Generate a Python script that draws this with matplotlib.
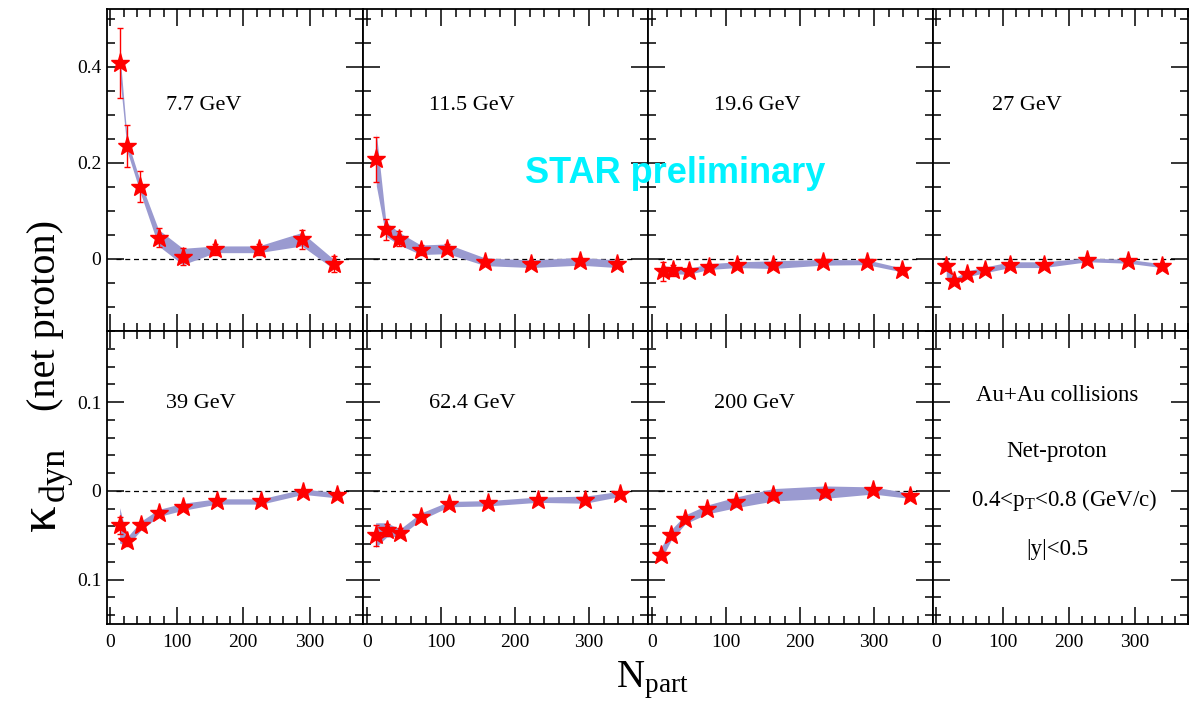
import numpy as np
import matplotlib
matplotlib.use("Agg")
import matplotlib.pyplot as plt
from matplotlib.ticker import MultipleLocator, FuncFormatter

plt.rcParams['font.family'] = 'Liberation Serif'
plt.rcParams['mathtext.fontset'] = 'custom'
plt.rcParams['mathtext.rm'] = 'Liberation Serif'
plt.rcParams['mathtext.it'] = 'Liberation Serif:italic'

# ---- data ----
energies = ["7.7 GeV", "11.5 GeV", "19.6 GeV", "27 GeV", "39 GeV", "62.4 GeV", "200 GeV"]

npart_77 = [14, 25.5, 45, 72.5, 109, 158, 223, 288, 336]
kap_77 = [0.408, 0.235, 0.150, 0.044, 0.005, 0.020, 0.020, 0.041, -0.011]
stat_77 = [0.073, 0.043, 0.032, 0.020, 0.017, 0.012, 0.012, 0.020, 0.017]
sys_77 = [0.025, 0.012, 0.012, 0.017, 0.017, 0.007, 0.007, 0.014, 0.010]

npart_115 = [13, 26, 44, 73, 109, 160, 222, 288, 338]
kap_115 = [0.207, 0.062, 0.042, 0.019, 0.021, -0.006, -0.010, -0.005, -0.010]
stat_115 = [0.047, 0.022, 0.016, 0.010, 0.009, 0.006, 0.006, 0.006, 0.006]
sys_115 = [0.055, 0.015, 0.013, 0.010, 0.010, 0.008, 0.008, 0.008, 0.008]

npart_196 = [15, 29, 50, 77, 115, 164, 231, 291, 338]
kap_196 = [-0.026, -0.024, -0.026, -0.016, -0.012, -0.012, -0.007, -0.007, -0.023]
stat_196 = [0.020, 0.012, 0.008, 0.005, 0.004, 0.003, 0.003, 0.003, 0.003]
sys_196 = [0.012, 0.007, 0.006, 0.006, 0.006, 0.008, 0.006, 0.005, 0.004]

npart_27 = [15, 26, 47, 73, 111, 162, 228, 290, 340]
kap_27 = [-0.015, -0.047, -0.031, -0.023, -0.012, -0.012, -0.002, -0.005, -0.014]
stat_27 = [0.008, 0.006, 0.004, 0.003, 0.002, 0.002, 0.002, 0.002, 0.002]
sys_27 = [0.022, 0.006, 0.006, 0.006, 0.006, 0.006, 0.004, 0.004, 0.004]

npart_39 = [14, 25.5, 46.5, 72.5, 109, 160, 227, 290, 341]
kap_39 = [-0.039, -0.057, -0.039, -0.025, -0.018, -0.012, -0.012, -0.001, -0.005]
stat_39 = [0.010, 0.005, 0.004, 0.003, 0.002, 0.002, 0.002, 0.002, 0.002]
sys_39 = [0.020, 0.005, 0.005, 0.004, 0.004, 0.003, 0.003, 0.003, 0.003]

npart_624 = [12, 27, 45, 73, 111, 164, 231, 295, 342]
kap_624 = [-0.050, -0.044, -0.047, -0.029, -0.015, -0.014, -0.010, -0.010, -0.0035]
stat_624 = [0.012, 0.007, 0.005, 0.003, 0.002, 0.002, 0.002, 0.002, 0.002]
sys_624 = [0.014, 0.008, 0.004, 0.004, 0.003, 0.003, 0.003, 0.004, 0.003]

npart_200 = [12, 26, 45.5, 75, 114, 164, 234, 299, 349]
kap_200 = [-0.072, -0.050, -0.032, -0.021, -0.013, -0.0045, -0.0015, 0.0004, -0.0056]
stat_200 = [0.004, 0.003, 0.002, 0.002, 0.002, 0.002, 0.002, 0.002, 0.002]
sys_200 = [0.007, 0.006, 0.005, 0.005, 0.006, 0.007, 0.007, 0.004, 0.003]

panels = [
    (npart_77, kap_77, stat_77, sys_77),
    (npart_115, kap_115, stat_115, sys_115),
    (npart_196, kap_196, stat_196, sys_196),
    (npart_27, kap_27, stat_27, sys_27),
    (npart_39, kap_39, stat_39, sys_39),
    (npart_624, kap_624, stat_624, sys_624),
    (npart_200, kap_200, stat_200, sys_200),
]

info_lines = ["Au+Au collisions", "Net-proton",
              r"0.4<p$_{\mathrm{T}}$<0.8 (GeV/c)", "|y|<0.5"]

W, H = 1196, 705
fig = plt.figure(figsize=(W / 100, H / 100), dpi=100)

col_px = [(107, 363), (363, 648), (648, 933), (933, 1188)]
row_px = [(9, 331), (331, 624)]
band_col = '#9a9ad0'

def nominus(v, pos):
    s = f"{abs(v):.1f}".rstrip('0').rstrip('.')
    return s

axes = []
for r in range(2):
    for c in range(4):
        x0, x1 = col_px[c]
        y0, y1 = row_px[r]
        ax = fig.add_axes([x0 / W, 1 - y1 / H, (x1 - x0) / W, (y1 - y0) / H])
        ax.set_xlim(-5, 380)
        if r == 0:
            ax.set_ylim(-0.15, 0.52)
            ax.yaxis.set_major_locator(MultipleLocator(0.2))
            ax.yaxis.set_minor_locator(MultipleLocator(0.05))
        else:
            ax.set_ylim(-0.15, 0.18)
            ax.yaxis.set_major_locator(MultipleLocator(0.1))
            ax.yaxis.set_minor_locator(MultipleLocator(0.02))
        ax.xaxis.set_major_locator(MultipleLocator(100))
        ax.xaxis.set_minor_locator(MultipleLocator(20))
        ax.tick_params(which='both', direction='in', top=True, right=True,
                       labelsize=14, width=1.1)
        ax.tick_params(which='major', length=12)
        ax.tick_params(which='minor', length=6)
        ax.tick_params(axis='x', pad=7)
        ax.tick_params(axis='y', pad=4)
        ax.yaxis.set_major_formatter(FuncFormatter(nominus))
        if c != 0:
            ax.set_yticklabels([])
        if r == 0:
            ax.set_xticklabels([])
        for sp in ax.spines.values():
            sp.set_linewidth(1.3)
        axes.append(ax)

for i, (xs, ys, st, sy) in enumerate(panels):
    ax = axes[i]
    xs = np.array(xs)
    ys = np.array(ys)
    sy = np.array(sy)
    ax.hlines(0, 8, 360, colors='black', linestyles=(0, (4, 3)), linewidth=0.9, zorder=1)
    ax.fill_between(xs, ys - sy, ys + sy, color=band_col, linewidth=0, zorder=2)
    ax.errorbar(xs, ys, yerr=st, fmt='none', ecolor='red', elinewidth=1.0,
                capsize=2.5, capthick=1.0, zorder=3)
    ax.plot(xs, ys, linestyle='none', marker='*', markersize=14,
            color='red', markeredgecolor='red', zorder=4)
    ty = 0.70 if i < 4 else 0.754
    ax.text(0.23, ty, energies[i], transform=ax.transAxes, fontsize=16,
            ha='left', va='center')

ax = axes[7]
for txt, yy, xx in zip(info_lines, [0.78, 0.59, 0.423, 0.253], [0.486, 0.486, 0.514, 0.486]):
    ax.text(xx, yy, txt, transform=ax.transAxes, fontsize=16.5, ha='center', va='center')

fig.text(675 / W, 1 - 183 / H, "STAR preliminary", color='#00f2ff', fontsize=26,
         family='Liberation Sans', weight='bold', ha='center', va='baseline')

# y title: big kappa, lowered "dyn", then "(net proton)" (anchored on the baseline)
fig.text(55 / W, 1 - 531 / H, "κ", rotation=90, rotation_mode='anchor',
         fontsize=38, ha='left', va='baseline')
fig.text(64 / W, 1 - 501 / H, "dyn", rotation=90, rotation_mode='anchor',
         fontsize=26, ha='left', va='baseline')
fig.text(55 / W, 1 - 411 / H, "(net proton)", rotation=90, rotation_mode='anchor',
         fontsize=29, ha='left', va='baseline')
fig.text(652 / W, 1 - 687 / H, r"N$_{\mathrm{part}}$", fontsize=28,
         ha='center', va='baseline')

fig.savefig("out.png", dpi=100)
